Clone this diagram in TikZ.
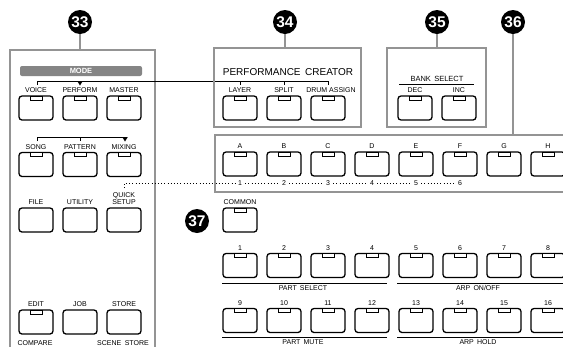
\documentclass[tikz,border=0pt]{standalone}
\usepackage{fontspec}
\setmainfont{Liberation Sans}
\definecolor{pgray}{gray}{0.58}
\definecolor{mgray}{gray}{0.52}
\newcommand\mkb[5]{%
  \node[btn] (#1) at (#2,#3) {};
  \node[lbl] (#1l) at ([yshift=3pt]#1.north) {#4};
  \ifnum#5=1 \draw[led] ([xshift=-6pt]#1.north) rectangle ([xshift=6pt,yshift=-4pt]#1.north);\fi
}
\newcommand\tri[2]{\fill (#1,#2) -- ++(-2.8,0) -- ++(2.8,4.5) -- ++(2.8,-4.5) -- cycle;}
\begin{document}
\begin{tikzpicture}[x=1pt,y=-1pt,
  panel/.style={draw=pgray, line width=2pt},
  btn/.style={draw=black, line width=1.3pt, rounded corners=3pt, minimum width=34pt, minimum height=24pt, inner sep=0pt, outer sep=0pt},
  led/.style={draw=black, line width=0.7pt, fill=white},
  lbl/.style={font=\fontsize{7}{7.2}\selectfont, inner sep=0pt, text depth=0pt, anchor=south, align=center},
  num/.style={circle, fill=black, minimum size=24pt, inner sep=0pt, text=white, font=\fontsize{15.5}{15.5}\selectfont\bfseries},
  thinl/.style={line width=0.6pt},
  dots/.style={line width=0.9pt, dash pattern=on 0.9pt off 2.3pt},
  small/.style={font=\fontsize{7}{7}\selectfont, inner sep=0pt, text depth=0pt},
  digit/.style={font=\fontsize{7}{7}\selectfont, inner xsep=3pt, inner ysep=0pt, text depth=0pt}
]
\useasboundingbox (0,0) rectangle (563,346);
\clip (0,0) rectangle (563,346);
\fill[white] (0,0) rectangle (563,346);

% ---------- panel 33 ----------
\node[num] (c33) at (80,22) {33};
\coordinate (p33) at (80,50);
\draw[panel] (c33) -- (p33);
\draw[panel] (10,360) -- (10,50) -- (155,50) -- (155,360);
\node[fill=mgray, rounded corners=2pt, minimum width=122pt, minimum height=10pt, inner sep=0pt, text=white, font=\fontsize{7.5}{7.5}\selectfont\bfseries] (mode) at (81,71) {MODE};

\mkb{voice}{36}{108}{VOICE}{1}
\mkb{perform}{80}{108}{PERFORM}{1}
\mkb{master}{124}{108}{MASTER}{1}
\mkb{song}{36}{164.5}{SONG}{1}
\mkb{pattern}{80}{164.5}{PATTERN}{1}
\mkb{mixing}{124}{164.5}{MIXING}{1}
\mkb{file}{36}{220}{FILE}{0}
\mkb{utility}{80}{220}{UTILITY}{0}
\mkb{qsetup}{124}{220}{QUICK\\SETUP}{0}
\mkb{edit}{36}{322}{EDIT}{1}
\mkb{job}{80}{322}{JOB}{0}
\mkb{store}{124}{322}{STORE}{0}
\node[small, anchor=north] (compare) at (35,340) {COMPARE};
\node[small, anchor=north] (scene) at (123,340) {SCENE\hspace{0.5em}STORE};

% brackets
\draw[thinl] (37,85) -- (37,81) -- (328,81) -- (328,85);
\draw[thinl] (240,81) -- (240,85);
\draw[thinl] (284,81) -- (284,85);
\tri{80}{81}
\draw[thinl] (37,141) -- (37,137) -- (125,137);
\draw[thinl] (80,137) -- (80,141);
\tri{125}{137}

% ---------- panel 34 ----------
\node[num] (c34) at (285,22) {34};
\coordinate (p34) at (285,48);
\draw[panel] (c34) -- (p34);
\draw[panel] (214,48) rectangle (361,127);
\node[font=\fontsize{10}{10}\selectfont, inner sep=0pt] (pc) at (288,72) {PERFORMANCE\hspace{0.45em}CREATOR};
\mkb{layer}{240}{108}{LAYER}{1}
\mkb{split}{284}{108}{SPLIT}{1}
\mkb{drum}{328}{108}{\hspace*{6pt}DRUM ASSIGN}{1}

% ---------- panel 35 ----------
\node[num] (c35) at (437,22) {35};
\coordinate (p35) at (437,48);
\draw[panel] (c35) -- (p35);
\draw[panel] (387,48) rectangle (486,127);
\node[font=\fontsize{7.5}{7.5}\selectfont, inner sep=0pt, text depth=0pt, anchor=south] (bank) at (437,82) {BANK\hspace{0.45em}SELECT};
\draw[thinl] (399,84) -- (474,84);
\mkb{dec}{415}{108}{DEC}{1}
\mkb{inc}{459}{108}{INC}{1}

% ---------- panel 36 ----------
\node[num] (c36) at (513,22) {36};
\coordinate (p36) at (513,135);
\draw[panel] (c36) -- (p36);
\draw[panel] (575,135) -- (215,135) -- (215,192) -- (575,192);
\mkb{ba}{240}{164}{A}{1}
\mkb{bb}{284}{164}{B}{1}
\mkb{bc}{328}{164}{C}{1}
\mkb{bd}{372}{164}{D}{1}
\mkb{be}{416}{164}{E}{1}
\mkb{bf}{460}{164}{F}{1}
\mkb{bg}{504}{164}{G}{1}
\mkb{bh}{548}{164}{H}{1}
\node[digit] (n1) at (240,183.5) {1};
\node[digit] (n2) at (284,183.5) {2};
\node[digit] (n3) at (328,183.5) {3};
\node[digit] (n4) at (372,183.5) {4};
\node[digit] (n5) at (416,183.5) {5};
\node[digit] (n6) at (460,183.5) {6};
\coordinate (dq) at (124,188);
\draw[dots] (dq) |- (n1);
\draw[dots] (n1) -- (n2);
\draw[dots] (n2) -- (n3);
\draw[dots] (n3) -- (n4);
\draw[dots] (n4) -- (n5);
\draw[dots] (n5) -- (n6);

% ---------- 37 ----------
\node[num] (c37) at (197,221) {37};
\mkb{common}{240}{220}{COMMON}{1}

\mkb{p1}{240}{265.5}{1}{1}
\mkb{p2}{284}{265.5}{2}{1}
\mkb{p3}{328}{265.5}{3}{1}
\mkb{p4}{372}{265.5}{4}{1}
\mkb{p5}{416}{265.5}{5}{1}
\mkb{p6}{460}{265.5}{6}{1}
\mkb{p7}{504}{265.5}{7}{1}
\mkb{p8}{548}{265.5}{8}{1}
\mkb{p9}{240}{320.5}{9}{1}
\mkb{p10}{284}{320.5}{10}{1}
\mkb{p11}{328}{320.5}{11}{1}
\mkb{p12}{372}{320.5}{12}{1}
\mkb{p13}{416}{320.5}{13}{1}
\mkb{p14}{460}{320.5}{14}{1}
\mkb{p15}{504}{320.5}{15}{1}
\mkb{p16}{548}{320.5}{16}{1}

\draw[thinl] (222,283) -- (387,283);
\draw[thinl] (397,283) -- (575,283);
\draw[thinl] (222,337) -- (387,337);
\draw[thinl] (397,337) -- (575,337);
\node[small, anchor=north] (psel) at (303,285.5) {PART\hspace{0.45em}SELECT};
\node[small, anchor=north] (arpo) at (478,285.5) {ARP\hspace{0.45em}ON/OFF};
\node[small, anchor=north] (pmute) at (303,339.5) {PART\hspace{0.45em}MUTE};
\node[small, anchor=north] (arph) at (478,339.5) {ARP\hspace{0.45em}HOLD};
\end{tikzpicture}
\end{document}
